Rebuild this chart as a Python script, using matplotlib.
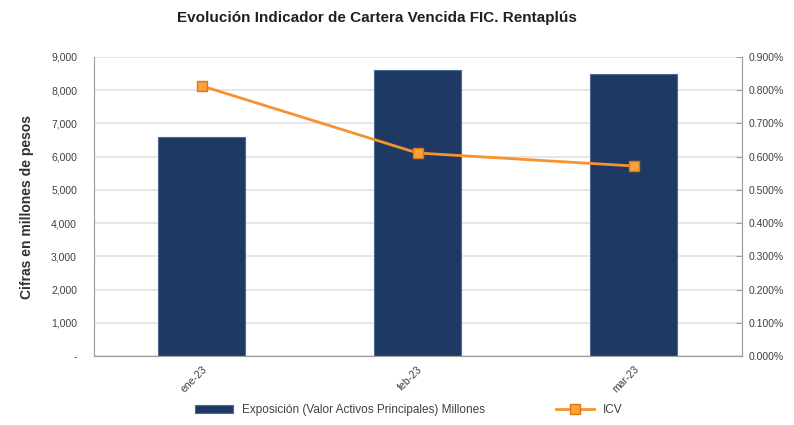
import matplotlib
matplotlib.use("Agg")
import matplotlib.pyplot as plt
from matplotlib.ticker import FuncFormatter, MultipleLocator

plt.rcParams['font.family'] = ['Liberation Sans', 'DejaVu Sans']

# datos
meses = ['ene-23', 'feb-23', 'mar-23']
exposicion = [6600, 8600, 8500]      # millones de pesos
icv = [0.813, 0.611, 0.572]          # porcentaje

fig = plt.figure(figsize=(7.94, 4.25), dpi=100)
ax = fig.add_axes([0.118, 0.162, 0.816, 0.704])
ax2 = ax.twinx()

x = list(range(len(meses)))
ax.bar(x, exposicion, width=0.4, color='#1E3A64', edgecolor='#4A6A94', linewidth=0.8,
       label='Exposición (Valor Activos Principales) Millones', zorder=2)
ax2.plot(x, icv, color='#F7922E', linewidth=2, marker='s', markersize=7,
         markerfacecolor='#F9A23C', markeredgecolor='#D9771A', label='ICV', zorder=3)

ax.set_xlim(-0.5, 2.5)
ax.set_ylim(0, 9000)
ax2.set_ylim(0, 0.9)
ax.yaxis.set_major_locator(MultipleLocator(1000))
ax2.yaxis.set_major_locator(MultipleLocator(0.1))
ax.yaxis.set_major_formatter(FuncFormatter(lambda v, p: '-' if v == 0 else f'{v:,.0f}'))
ax2.yaxis.set_major_formatter(FuncFormatter(lambda v, p: f'{v:.3f}%'))

ax.set_xticks(x)
ax.set_xticklabels(meses, rotation=45, ha='right', rotation_mode='anchor', fontsize=7.5, color='#404040')
ax.grid(axis='y', color='#E3E3E3', linewidth=1.2, zorder=0)
ax.set_axisbelow(True)

for a in (ax, ax2):
    a.spines['top'].set_visible(False)
    a.spines['left'].set_color('#A0A0A0')
    a.spines['right'].set_color('#A0A0A0')
    a.spines['bottom'].set_color('#A0A0A0')
    a.tick_params(axis='y', labelsize=7.5, colors='#A0A0A0', length=3)
    a.tick_params(axis='y', labelcolor='#404040')
ax.tick_params(axis='y', length=0, pad=12)
ax.tick_params(axis='x', length=0, pad=6)
ax2.tick_params(axis='y', direction='in', length=4, pad=5)

ax.set_ylabel('Cifras en millones de pesos', fontsize=10, fontweight='bold', color='#303030', labelpad=12)
fig.suptitle('Evolución Indicador de Cartera Vencida FIC. Rentaplús', fontsize=11,
             fontweight='bold', color='#202020', x=0.475, y=0.975)

h1, l1 = ax.get_legend_handles_labels()
h2, l2 = ax2.get_legend_handles_labels()
fig.legend(h1 + h2, l1 + l2, loc='center', bbox_to_anchor=(0.515, 0.035), ncol=2, frameon=False,
           fontsize=8.5, handlelength=3.2, handleheight=0.6, columnspacing=6, labelcolor='#404040')

fig.savefig('out.png', dpi=100)
